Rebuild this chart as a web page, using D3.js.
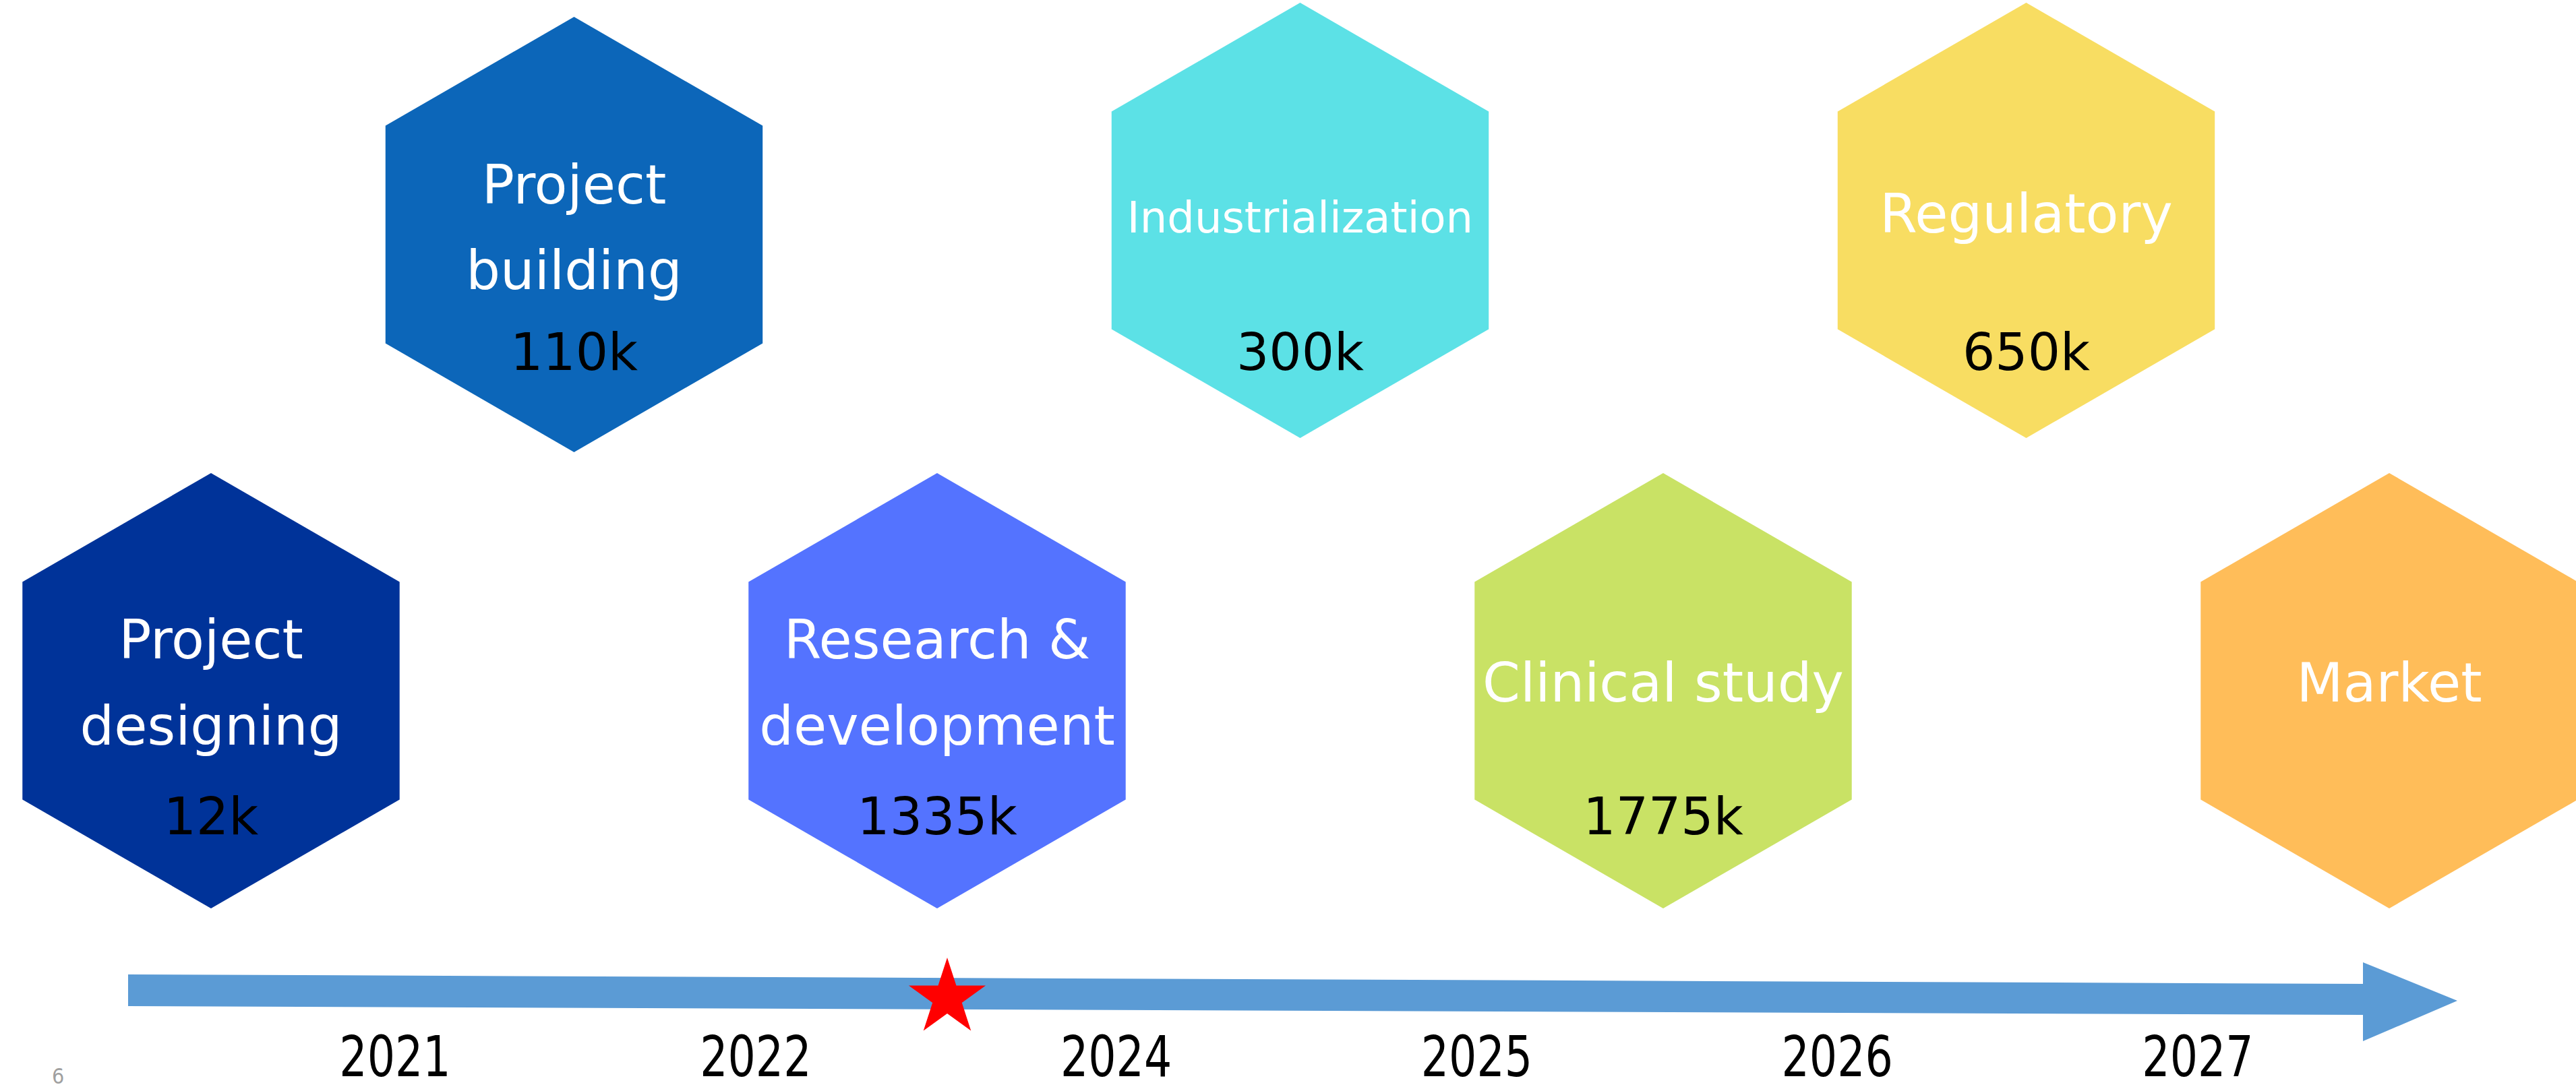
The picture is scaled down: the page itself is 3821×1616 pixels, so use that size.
<!DOCTYPE html>
<meta charset="utf-8">
<style>
  body { margin: 0; background: #fff; }
  svg { display: block; }
  .label { font-family: "DejaVu Sans", sans-serif; fill: #fff; }
  .value { font-family: "DejaVu Sans", sans-serif; fill: #000; }
  .year { font-family: "Liberation Sans Narrow", "DejaVu Sans Condensed", sans-serif; font-stretch: condensed; fill: #000; }
  .page { font-family: "Liberation Sans Narrow", "DejaVu Sans Condensed", sans-serif; fill: #a0a0a0; }
</style>
<svg width="3821" height="1616"></svg>
<script src="https://d3js.org/d3.v7.min.js"></script>
<script>
  // phases of the project, in timeline order
  var phases = ["Project designing", "Project building", "Research & development",
    "Industrialization", "Clinical study", "Regulatory", "Market"];
  var phaseLines = [["Project", "designing"], ["Project", "building"], ["Research &", "development"],
    ["Industrialization"], ["Clinical study"], ["Regulatory"], ["Market"]];
  var budgets = [12, 110, 1335, 300, 1775, 650, null]; // k
  var phaseColors = ["#003399", "#0c66b9", "#5473ff", "#5ce1e6", "#c9e265", "#f8dd62", "#ffbd59"];
  var years = ["2021", "2022", "2024", "2025", "2026", "2027"];
  var currentPhase = "Research & development";

  var svg = d3.select("svg"),
    width = +svg.attr("width"),
    height = +svg.attr("height");

  var hexR = 323; // circumradius, pointy top
  var x = d3.scalePoint().domain(phases).range([313, 3544]);
  var xYear = d3.scalePoint().domain(years).range([586, 3260]);

  // two staggered rows: even phases low, odd phases high
  var rows = {
    low: { cy: 1025, line1: 977, line2: 1105, single: 1041, value: 1238 },
    high: { cy: 327, line1: 302, line2: 429, single: 345, value: 549 }
  };
  function rowOf(i) { return i % 2 === 0 ? rows.low : rows.high; }

  var hexPts = d3.range(6).map(function(k) {
    var a = Math.PI / 3 * k - Math.PI / 2;
    return [hexR * Math.cos(a), hexR * Math.sin(a)];
  });

  var g = svg.append("g").selectAll("g")
    .data(phases)
    .enter().append("g")
    .attr("transform", function(d, i) {
      return "translate(" + x(d) + ",0)";
    });

  g.append("path")
    .attr("d", function(d, i) {
      // the first high hexagon sits a little lower in the original
      var cy = rowOf(i).cy + (i === 1 ? 21 : 0);
      return d3.line()(hexPts.map(function(p) { return [p[0], p[1] + cy]; })) + "Z";
    })
    .attr("fill", function(d, i) { return phaseColors[i]; });

  g.each(function(d, i) {
    var row = rowOf(i), lines = phaseLines[i], sel = d3.select(this);
    var size = lines[0].length > 14 ? 64 : 80;
    lines.forEach(function(t, j) {
      sel.append("text")
        .attr("class", "label")
        .attr("text-anchor", "middle")
        .attr("y", lines.length === 1 ? row.single : (j === 0 ? row.line1 : row.line2))
        .attr("font-size", size)
        .text(t);
    });
    if (budgets[i] != null) {
      sel.append("text")
        .attr("class", "value")
        .attr("text-anchor", "middle")
        .attr("y", row.value)
        .attr("font-size", 76)
        .text(budgets[i] + "k");
    }
  });

  // timeline arrow
  var arrow = [[190, 1446], [3505, 1460], [3505, 1428], [3645, 1485],
    [3505, 1545], [3505, 1506], [190, 1493]];
  svg.append("path")
    .attr("d", d3.line()(arrow) + "Z")
    .attr("fill", "#5b9bd5");

  // current position marker
  svg.append("path")
    .attr("d", d3.symbol(d3.symbolStar, 4040)())
    .attr("transform", "translate(" + (x(currentPhase) + 15) + ",1481)")
    .attr("fill", "#ff0000");

  svg.append("g").selectAll("text")
    .data(years)
    .enter().append("text")
    .attr("class", "year")
    .attr("transform", function(d) { return "translate(" + xYear(d) + ",1597) scale(0.86,1)"; })
    .attr("text-anchor", "middle")
    .attr("font-size", 84)
    .text(function(d) { return d; });

  svg.append("text")
    .attr("class", "page")
    .attr("x", 77)
    .attr("y", 1608)
    .attr("font-size", 32)
    .text("6");
</script>
